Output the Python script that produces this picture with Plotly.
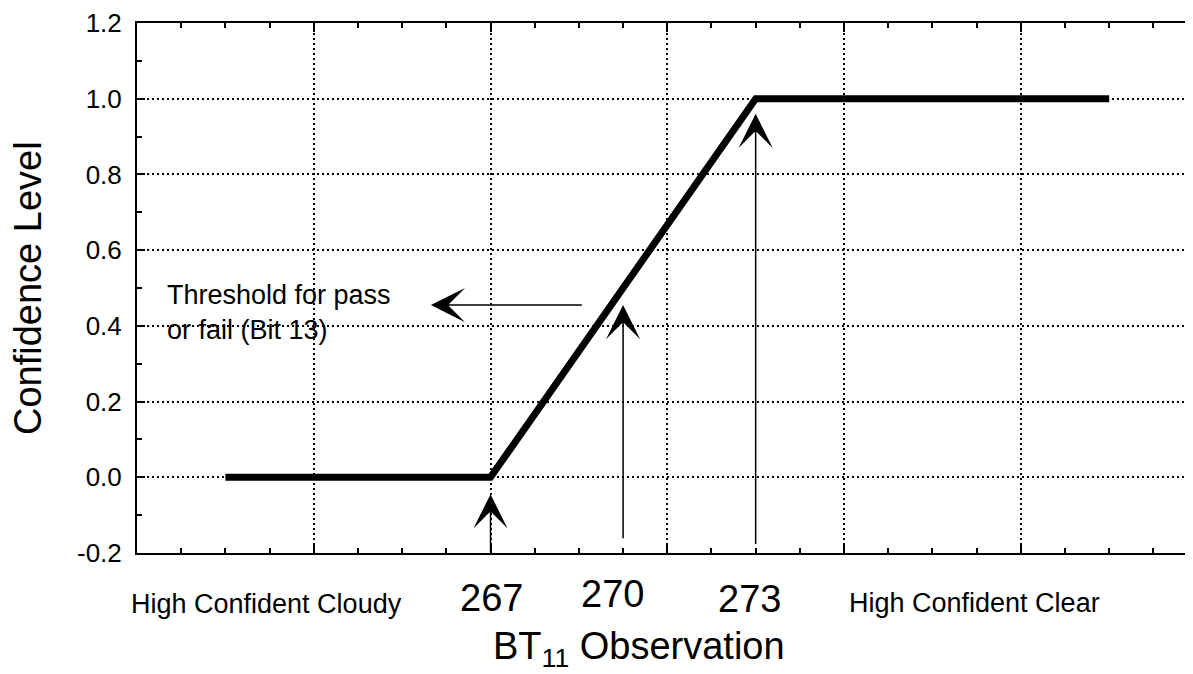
import plotly.graph_objects as go

# ---- data ----
bt_obs = [261, 267, 273, 281]          # BT11 observation (K)
confidence = [0.0, 0.0, 1.0, 1.0]      # confidence level

# vertical arrows (tip / tail values)
arrow_x = [267, 270, 273]
arrow_tip = [-0.045, 0.455, 0.96]
arrow_tail = [-0.2, -0.165, -0.18]

# horizontal "threshold" arrow
thr_arrow_y = 0.455
thr_arrow_from = 269.1
thr_arrow_to = 265.65

# y-axis tick labels
ytick_vals = [-0.2, 0.0, 0.2, 0.4, 0.6, 0.8, 1.0, 1.2]
ytick_text = ["-0.2", "0.0", "0.2", "0.4", "0.6", "0.8", "1.0", "1.2"]

# x-axis labels
xlabel_text = ["High Confident Cloudy", "267", "270", "273", "High Confident Clear"]
xlabel_pos = [261.94, 267.03, 269.77, 272.85, 277.96]
xlabel_size = [27, 38, 38, 38, 27]
xlabel_ypix = [604, 598, 594, 599, 603]

FONT = "Liberation Sans, Arial, Helvetica, sans-serif"
OFF = 8                      # page body margin
W, H = 1193 - OFF, 674 - OFF
L, T = 137 - OFF, 20 - OFF
PLOT_BOTTOM = 553 - OFF
B = H - PLOT_BOTTOM
plot_h = PLOT_BOTTOM - T
PX_PER_K = 44.19

def ypaper(ypix):
    return (553 - ypix) / plot_h

def xdata(xpix):
    return 259 + (xpix - 137) / PX_PER_K

fig = go.Figure()
fig.add_trace(go.Scatter(x=bt_obs, y=confidence, mode="lines",
                         line=dict(color="black", width=7), showlegend=False,
                         hoverinfo="skip"))

anns = []
for xv, tip, tail in zip(arrow_x, arrow_tip, arrow_tail):
    anns.append(dict(x=xv, y=tip, ax=xv, ay=tail, xref="x", yref="y",
                     axref="x", ayref="y", text="", showarrow=True,
                     arrowhead=3, arrowsize=3.8, arrowwidth=1.5, arrowcolor="black"))
anns.append(dict(x=thr_arrow_to, y=thr_arrow_y, ax=thr_arrow_from, ay=thr_arrow_y,
                 xref="x", yref="y", axref="x", ayref="y", text="", showarrow=True,
                 arrowhead=3, arrowsize=3.8, arrowwidth=1.5, arrowcolor="black"))

anns.append(dict(x=xdata(165), y=0.434, xref="x", yref="y", xanchor="left", yanchor="middle",
                 align="left", showarrow=False,
                 text="Threshold for pass<br>or fail (Bit 13)",
                 font=dict(family=FONT, size=27, color="black")))

for txt, xp, sz, yp in zip(xlabel_text, xlabel_pos, xlabel_size, xlabel_ypix):
    anns.append(dict(x=xp, y=ypaper(yp), xref="x", yref="paper",
                     xanchor="center", yanchor="middle", showarrow=False, text=txt,
                     font=dict(family=FONT, size=sz, color="black")))

anns.append(dict(x=xdata(639), y=ypaper(650), xref="x", yref="paper", showarrow=False,
                 text="BT<sub>11</sub> Observation", xanchor="center", yanchor="middle",
                 font=dict(family=FONT, size=38, color="black")))

anns.append(dict(x=(28.5 - 137) / (W - L), y=ypaper(287), xref="paper", yref="paper",
                 showarrow=False, text="Confidence Level", textangle=-90,
                 xanchor="center", yanchor="middle",
                 font=dict(family=FONT, size=38, color="black")))

fig.update_layout(
    width=W, height=H,
    margin=dict(l=L, r=0, t=T, b=B, pad=0),
    paper_bgcolor="white", plot_bgcolor="white",
    annotations=anns,
    font=dict(family=FONT, color="black"),
    xaxis=dict(range=[259, 259 + (W - L) / PX_PER_K], tick0=259, dtick=4,
               showline=True, linecolor="black", linewidth=2, mirror="ticks",
               ticks="inside", ticklen=9, tickwidth=2, tickcolor="black",
               showticklabels=False,
               showgrid=True, gridcolor="black", gridwidth=1.5, griddash="2px,3px",
               minor=dict(dtick=1, tick0=259, ticks="inside", ticklen=5, tickwidth=1.5,
                          tickcolor="black", showgrid=False),
               zeroline=False, fixedrange=True),
    yaxis=dict(range=[-0.2, 1.2], tickmode="array", tickvals=ytick_vals, ticktext=ytick_text,
               showline=True, linecolor="black", linewidth=2, mirror=False,
               ticks="inside", ticklen=8, tickwidth=1.5, tickcolor="black",
               tickfont=dict(family=FONT, size=26, color="black"),
               ticklabelstandoff=8, ticklabeloverflow="allow",
               showgrid=True, gridcolor="black", gridwidth=1.5, griddash="2px,3px",
               minor=dict(dtick=0.1, tick0=-0.2, ticks="inside", ticklen=5, tickwidth=1.5,
                          tickcolor="black", showgrid=False),
               zeroline=False, fixedrange=True),
)

fig.write_html("out.html")
